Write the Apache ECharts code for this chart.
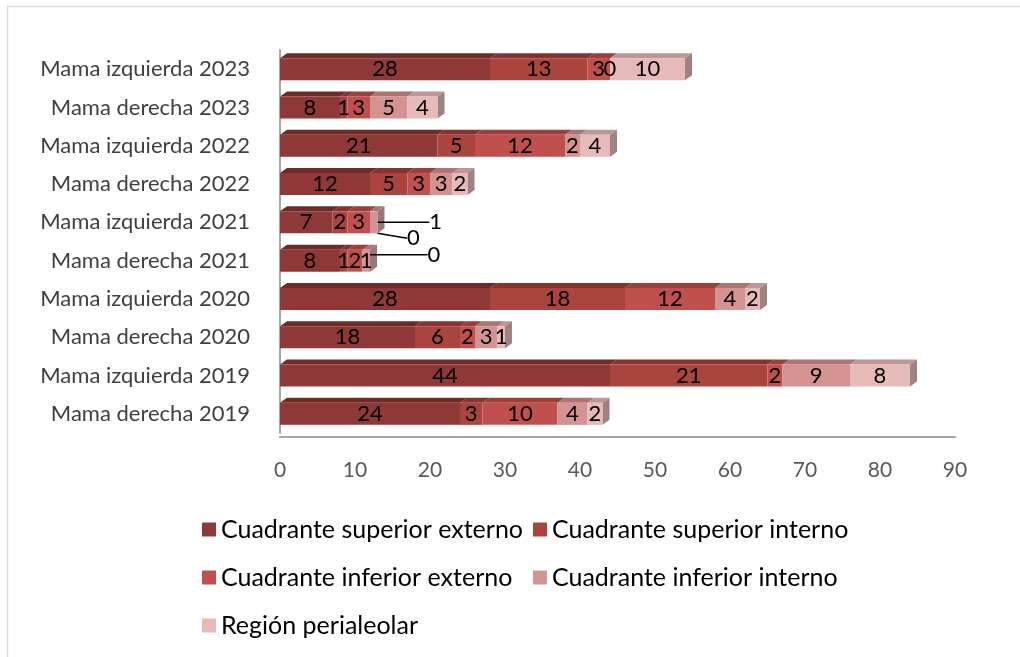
<!DOCTYPE html>
<html>
<head>
<meta charset="utf-8">
<script src="https://cdn.jsdelivr.net/npm/echarts@6/dist/echarts.min.js"></script>
<style>html,body{margin:0;padding:0;background:#fff}#c{width:1020px;height:657px}</style>
</head>
<body>
<div id="c"></div>
<script>
// ---- data ----
const categories = ['Mama derecha 2019','Mama izquierda 2019','Mama derecha 2020','Mama izquierda 2020','Mama derecha 2021','Mama izquierda 2021','Mama derecha 2022','Mama izquierda 2022','Mama derecha 2023','Mama izquierda 2023'];
const seriesNames = ['Cuadrante superior externo','Cuadrante superior interno','Cuadrante inferior externo','Cuadrante inferior interno','Región perialeolar'];
const supExt = [24,44,18,28,8,7,12,21,8,28];
const supInt = [3,21,6,18,1,2,5,5,1,13];
const infExt = [10,2,2,12,2,3,3,12,3,3];
const infInt = [4,9,3,4,1,1,3,2,5,0];
const peri   = [2,8,1,2,0,0,2,4,4,10];
const xTicks = [0,10,20,30,40,50,60,70,80,90];

// ---- styling ----
const FONT = 'Lato';
const colors = ['#8e3937','#a9443f','#c0504d','#d49290','#e6bab9'];
const topColors = ['#6e2b29','#86332f','#9b3f3c','#ad7473','#bd9695'];
const sideColors = ['#5c2624','#6f2c29','#7f3431','#9b7877','#a08281'];
const BAR_RATIO = 0.575, DX = 7, DY = 5;
const allSeries = [supExt, supInt, infExt, infInt, peri];
// callout label offsets (seriesIndex-dataIndex)
const callouts = {'3-5':[62,0], '4-5':[36,16], '4-4':[64,-6]};

const chart = echarts.init(document.getElementById('c'));
const barSeries = allSeries.map((d, i) => ({
  name: seriesNames[i], type: 'bar', stack: 'total', data: d,
  barWidth: (BAR_RATIO*100)+'%', z: 3,
  itemStyle: {color: colors[i]},
  label: {show: true, position: 'inside', color: '#000', fontFamily: FONT, fontSize: 22, padding: [4,0,0,0]},
  labelLine: {show: i >= 3, lineStyle: {color: '#000', width: 1.5}},
  labelLayout: function (p) {
    const c = callouts[p.seriesIndex + '-' + p.dataIndex];
    if (c) return {dx: c[0], dy: c[1]};
    return {};
  }
}));

const faceData = categories.map((c, k) => [k].concat(allSeries.map(s => s[k])));
const faces = {
  type: 'custom', z: 2, silent: true, legendHoverLink: false,
  encode: {y: 0, x: [1,2,3,4,5]},
  data: faceData,
  renderItem: function (params, api) {
    const cat = api.value(0);
    const h = api.size([0, 1])[1] * BAR_RATIO;
    const yc = api.coord([0, cat])[1];
    const yTop = yc - h / 2;
    const children = [];
    let cum = 0, last = -1, xEnd = api.coord([0, cat])[0];
    for (let i = 0; i < 5; i++) {
      const v = api.value(i + 1);
      const x0 = api.coord([cum, cat])[0];
      const x1 = api.coord([cum + v, cat])[0];
      if (v > 0) {
        children.push({type: 'polygon', shape: {points: [[x0, yTop], [x1, yTop], [x1 + DX, yTop - DY], [x0 + DX, yTop - DY]]}, style: {fill: topColors[i]}});
        last = i; xEnd = x1;
      }
      cum += v;
    }
    if (last >= 0) {
      children.push({type: 'polygon', shape: {points: [[xEnd, yTop], [xEnd + DX, yTop - DY], [xEnd + DX, yTop + h - DY], [xEnd, yTop + h]]}, style: {fill: sideColors[last]}});
    }
    return {type: 'group', children: children};
  }
};

chart.setOption({
  animation: false,
  backgroundColor: '#fff',
  textStyle: {fontFamily: FONT},
  graphic: [{type: 'rect', left: 5, top: 4, shape: {width: 1040, height: 680}, style: {fill: 'none', stroke: '#d9d9d9', lineWidth: 1.5}, silent: true}],
  grid: {left: 280, top: 50, width: 675, height: 383},
  xAxis: {
    type: 'value', min: xTicks[0], max: xTicks[xTicks.length - 1], interval: 10, offset: 4,
    axisLine: {show: true, lineStyle: {color: '#a6a6a6', width: 2}},
    axisTick: {show: false}, splitLine: {show: false},
    axisLabel: {color: '#595959', fontSize: 21, fontFamily: FONT, margin: 23}
  },
  yAxis: {
    type: 'category', data: categories, offset: 7,
    axisLabel: {color: '#404040', fontSize: 22, fontFamily: FONT, margin: 23, padding: [10,0,0,0]},
    axisLine: {show: true, lineStyle: {color: '#a6a6a6', width: 2}},
    axisTick: {show: false}
  },
  legend: [
    {data: [seriesNames[0], seriesNames[2], seriesNames[4]], orient: 'vertical', left: 197, top: 512, itemGap: 23, itemWidth: 14, itemHeight: 14, icon: 'rect', textStyle: {fontSize: 25, color: '#000', fontFamily: FONT}, selectedMode: false},
    {data: [seriesNames[1], seriesNames[3]], orient: 'vertical', left: 528, top: 512, itemGap: 23, itemWidth: 14, itemHeight: 14, icon: 'rect', textStyle: {fontSize: 25, color: '#000', fontFamily: FONT}, selectedMode: false}
  ],
  series: barSeries.concat([faces])
});
</script>
</body>
</html>
